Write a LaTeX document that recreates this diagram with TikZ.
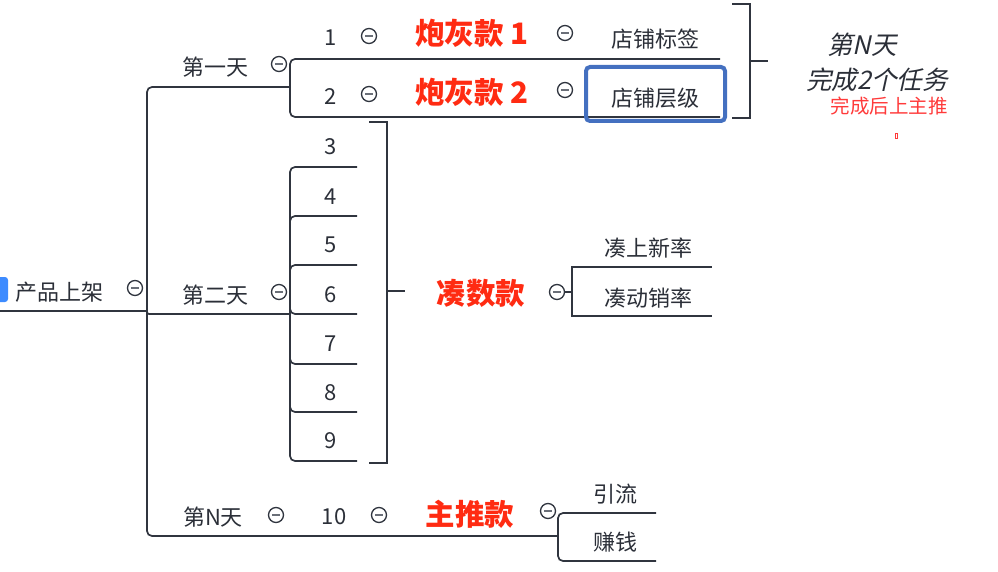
\documentclass[tikz,border=0pt]{standalone}
\usepackage{fontspec}
\newfontfamily\cjk{Noto Sans CJK SC}
\newfontfamily\cjkit[FakeSlant=0.22]{Noto Sans CJK SC}
\definecolor{linec}{HTML}{30353F}
\definecolor{textc}{HTML}{2B2F38}
\definecolor{redc}{HTML}{FF2B12}
\definecolor{lightred}{HTML}{FF3A3A}
\definecolor{bluec}{HTML}{4470C0}
\definecolor{blueroot}{HTML}{3D8BFF}
\definecolor{minusc}{HTML}{6A6F78}
\tikzset{
  conn/.style={draw=linec, line width=1.7pt, rounded corners=5pt},
  sq/.style={draw=linec, line width=1.7pt},
  lbl/.style={text=textc, font=\cjk\fontsize{22}{22}\selectfont, inner sep=0pt},
  big/.style={text=redc, font=\cjk\bfseries\fontsize{29.5}{29.5}\selectfont, inner sep=0pt},
  note/.style={text=textc, font=\cjkit\fontsize{25.5}{25.5}\selectfont, inner sep=0pt},
  tog/.style={circle, draw=linec, line width=1.3pt, fill=white, minimum size=15pt, inner sep=0pt,
    path picture={\draw[minusc, line width=1.1pt] ([xshift=-3.8pt]path picture bounding box.center) -- ([xshift=3.8pt]path picture bounding box.center);}}
}
\begin{document}
\begin{tikzpicture}[x=1pt, y=-1pt]
\useasboundingbox (0,0) rectangle (998,572);
\clip (0,0) rectangle (998,572);
% junction coordinates
\coordinate (rootend) at (147,311);
\coordinate (d1j) at (290,87);
\coordinate (d2j) at (290,314);
\coordinate (mj) at (558,536);
\coordinate (cj) at (572,292);
% root
\fill[blueroot, rounded corners=3pt] (-8,277) rectangle (8,302);
\node[lbl] (root) at (60,292) {产品上架};
\node[tog] (troot) at (135,288) {};
\draw[sq] (0,311) -- (rootend);
% trunk connectors
\draw[conn] (rootend) -- (147,87) -- (d1j);
\draw[conn, rounded corners=2pt] (rootend) -- (147,314) -- (d2j);
\draw[conn] (rootend) -- (147,536) -- (mj);
% day 1
\node[lbl] (d1) at (215,67) {第一天};
\node[tog] (td1) at (279,64) {};
\draw[conn] (d1j) -- (290,59) -- (720,59);
\draw[conn] (d1j) -- (290,117) -- (720,117);
\node[lbl] (i1) at (331,38) {1};
\node[tog] (ti1) at (369,36) {};
\node[lbl] (i2) at (331,97) {2};
\node[tog] (ti2) at (369,94) {};
\node[big] (p1) at (472,33) {炮灰款 1};
\node[tog] (tp1) at (565,33) {};
\node[big] (p2) at (472,92) {炮灰款 2};
\node[tog] (tp2) at (565,90) {};
\node[lbl] (s1) at (655,39) {店铺标签};
\node[lbl] (s2) at (655,98) {店铺层级};
\draw[bluec, line width=4pt, rounded corners=4pt] (586,67) rectangle (725,121);
% big bracket and note
\draw[sq] (732,4) -- (750,4) -- (750,118) -- (732,118);
\draw[sq] (750,61) -- (768,61);
\node[note] (nt1) at (862,45) {第N天};
\node[note] (nt2) at (877,80) {完成2个任务};
\node[text=lightred, font=\cjk\fontsize{19.5}{19.5}\selectfont, inner sep=0pt] (nt3) at (889,106) {完成后上主推};
\draw[lightred, line width=0.8pt] (895,133) rectangle (897.5,138);
% day 2
\node[lbl] (d2) at (215,295) {第二天};
\node[tog] (td2) at (279,292) {};
\foreach \n/\ty/\ly in {3/147/167, 4/197/216, 5/245/265, 6/295/314, 7/344/364, 8/393/412, 9/441/461}{
  \node[lbl] (i\n) at (331,\ty) {\n};
  \draw[conn] (d2j) -- (290,\ly) -- (357,\ly);
}
\draw[sq] (369,122) -- (387,122) -- (387,463) -- (369,463);
\draw[sq] (387,291) -- (405,291);
\node[big] (c) at (481,293) {凑数款};
\node[tog] (tc) at (557,292) {};
\draw[sq] (tc.east) -- (cj);
\draw[sq] (cj) -- (572,267) -- (712,267);
\draw[sq] (cj) -- (572,316) -- (712,316);
\node[lbl] (c1) at (648,248) {凑上新率};
\node[lbl] (c2) at (648,298) {凑动销率};
% day N
\node[lbl] (dN) at (213,517) {第N天};
\node[tog] (tdN) at (276,515) {};
\node[lbl] (i10) at (334,517) {10};
\node[tog] (ti10) at (379,515) {};
\node[big] (m) at (470,514) {主推款};
\node[tog] (tm) at (548,511) {};
\draw[conn] (mj) -- (558,513) -- (656,513);
\draw[conn] (mj) -- (558,561) -- (656,561);
\node[lbl] (m1) at (615,494) {引流};
\node[lbl] (m2) at (615,542) {赚钱};
\end{tikzpicture}
\end{document}
